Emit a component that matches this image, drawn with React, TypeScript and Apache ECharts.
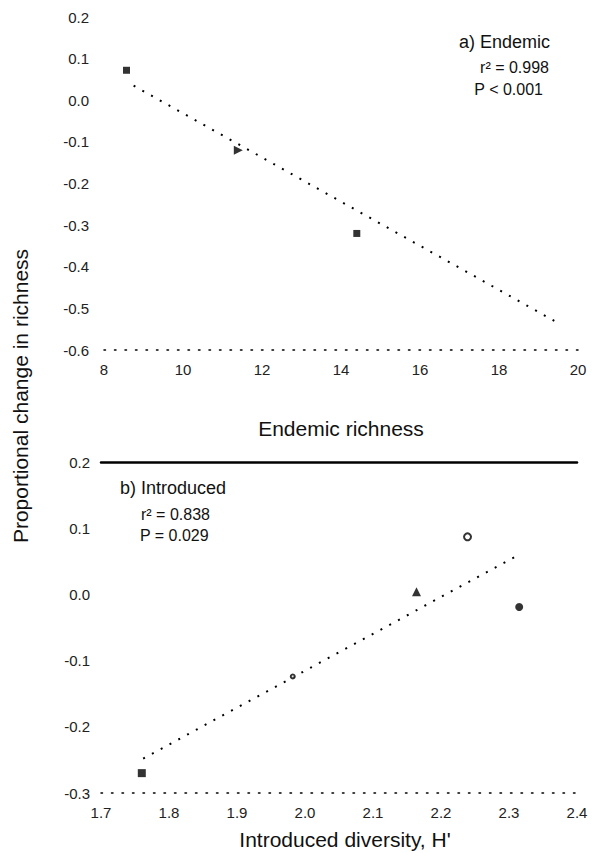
import React, { useEffect, useRef } from "react";
import * as echarts from "echarts";

// Panel a) Endemic
const endemicX = [8.57, 11.4, 14.4];
const endemicY = [0.072, -0.12, -0.32];
const endemicSymbols = ["rect", "triangle", "rect"];
const endemicFitX = [8.75, 19.4];
const endemicFitY = [0.035, -0.53];
const endemicXTicks = [8, 10, 12, 14, 16, 18, 20];
const endemicYTicks = [-0.6, -0.5, -0.4, -0.3, -0.2, -0.1, 0.0, 0.1, 0.2];

// Panel b) Introduced
const introX = [1.76, 1.982, 2.164, 2.239, 2.315];
const introY = [-0.27, -0.124, 0.004, 0.087, -0.019];
const introSymbols = ["rect", "open", "triangle", "open", "circle"];
const introFitX = [1.762, 2.311];
const introFitY = [-0.248, 0.058];
const introXTicks = [1.7, 1.8, 1.9, 2.0, 2.1, 2.2, 2.3, 2.4];
const introYTicks = [-0.3, -0.2, -0.1, 0.0, 0.1, 0.2];

const panelATitle = "a) Endemic";
const panelAStats = ["r² = 0.998", "P < 0.001"];
const panelBTitle = "b) Introduced";
const panelBStats = ["r² = 0.838", "P = 0.029"];
const yTitle = "Proportional change in richness";
const xTitleA = "Endemic richness";
const xTitleB = "Introduced diversity, H'";

const FONT = "'Liberation Sans', Arial, sans-serif";

const fmt1 = (v: number) => (Math.abs(v) < 1e-9 ? "0.0" : v.toFixed(1));

export default function App() {
  const ref = useRef<HTMLDivElement>(null);

  useEffect(() => {
    if (!ref.current) return;
    const chart = echarts.init(ref.current, null, { renderer: "svg" });

    const pointsA = endemicX.map((x, i) => ({
      value: [x, endemicY[i]],
      symbol: endemicSymbols[i],
      symbolSize: endemicSymbols[i] === "triangle" ? 9 : 7,
      symbolRotate: endemicSymbols[i] === "triangle" ? -90 : 0,
    }));
    const pointsB = introX.map((x, i) => {
      const s = introSymbols[i];
      const open = s === "open";
      return {
        value: [x, introY[i]],
        symbol: open ? "circle" : s,
        symbolSize: i === 1 ? 4 : open ? 7 : s === "triangle" ? 9 : 8,
        itemStyle: open
          ? { color: "#fff", borderColor: "#000", borderWidth: 2 }
          : { color: "#000", borderWidth: 0 },
      };
    });

    const axisLabel = { color: "#222", fontSize: 15, fontFamily: FONT };
    const dottedAxis = {
      show: true,
      onZero: false,
      lineStyle: { color: "#000", width: 1.5, type: [1.5, 9] as any },
    };

    const txt = (text: string, x: number, y: number, size: number, align: string) => ({
      type: "text",
      x,
      y,
      style: { text, font: `${size}px ${FONT}`, fill: "#111", align, verticalAlign: "middle" },
    });

    chart.setOption({
      animation: false,
      backgroundColor: "#fff",
      grid: [
        { left: 104, right: 16, top: 17, height: 333 },
        { left: 101, right: 17, top: 462, height: 331 },
      ],
      xAxis: [
        {
          gridIndex: 0,
          type: "value",
          min: endemicXTicks[0],
          max: endemicXTicks[endemicXTicks.length - 1],
          interval: 2,
          axisLine: dottedAxis,
          axisTick: { show: false },
          splitLine: { show: false },
          axisLabel: { ...axisLabel, margin: 12 },
        },
        {
          gridIndex: 1,
          type: "value",
          min: introXTicks[0],
          max: introXTicks[introXTicks.length - 1],
          interval: 0.1,
          axisLine: dottedAxis,
          axisTick: { show: false },
          splitLine: { show: false },
          axisLabel: { ...axisLabel, margin: 12, formatter: (v: number) => fmt1(v) },
        },
        {
          gridIndex: 1,
          type: "value",
          position: "top",
          min: introXTicks[0],
          max: introXTicks[introXTicks.length - 1],
          axisLine: { show: true, onZero: false, lineStyle: { color: "#000", width: 2.5 } },
          axisTick: { show: false },
          axisLabel: { show: false },
          splitLine: { show: false },
        },
      ],
      yAxis: [
        {
          gridIndex: 0,
          type: "value",
          min: endemicYTicks[0],
          max: endemicYTicks[endemicYTicks.length - 1],
          interval: 0.1,
          axisLine: { show: false },
          axisTick: { show: false },
          splitLine: { show: false },
          axisLabel: { ...axisLabel, margin: 15, formatter: (v: number) => fmt1(v) },
        },
        {
          gridIndex: 1,
          type: "value",
          min: introYTicks[0],
          max: introYTicks[introYTicks.length - 1],
          interval: 0.1,
          axisLine: { show: false },
          axisTick: { show: false },
          splitLine: { show: false },
          axisLabel: { ...axisLabel, margin: 11, formatter: (v: number) => fmt1(v) },
        },
      ],
      series: [
        {
          type: "line",
          xAxisIndex: 0,
          yAxisIndex: 0,
          data: endemicFitX.map((x, i) => [x, endemicFitY[i]]),
          showSymbol: false,
          symbol: "none",
          lineStyle: { color: "#000", width: 2, type: [2, 8] as any },
        },
        {
          type: "scatter",
          xAxisIndex: 0,
          yAxisIndex: 0,
          data: pointsA,
          itemStyle: { color: "#000" },
        },
        {
          type: "line",
          xAxisIndex: 1,
          yAxisIndex: 1,
          data: introFitX.map((x, i) => [x, introFitY[i]]),
          showSymbol: false,
          symbol: "none",
          lineStyle: { color: "#000", width: 2, type: [2, 8] as any },
        },
        {
          type: "scatter",
          xAxisIndex: 1,
          yAxisIndex: 1,
          z: 5,
          data: pointsB,
        },
      ],
      graphic: [
        {
          type: "text",
          x: 20,
          y: 396,
          rotation: Math.PI / 2,
          style: {
            text: yTitle,
            font: `21px ${FONT}`,
            fill: "#111",
            align: "center",
            verticalAlign: "middle",
          },
        },
        txt(xTitleA, 341, 428, 21, "center"),
        txt(xTitleB, 345, 839, 21, "center"),
        txt(panelATitle, 550, 42, 18, "right"),
        txt(panelAStats[0], 549, 67, 16, "right"),
        txt(panelAStats[1], 543, 89, 16, "right"),
        txt(panelBTitle, 120, 488, 18, "left"),
        txt(panelBStats[0], 141, 514, 16, "left"),
        txt(panelBStats[1], 140, 535, 16, "left"),
      ],
    });

    return () => chart.dispose();
  }, []);

  return (
    <div
      ref={ref}
      style={{ position: "absolute", left: 0, top: 0, width: 594, height: 853, background: "#fff" }}
    />
  );
}
